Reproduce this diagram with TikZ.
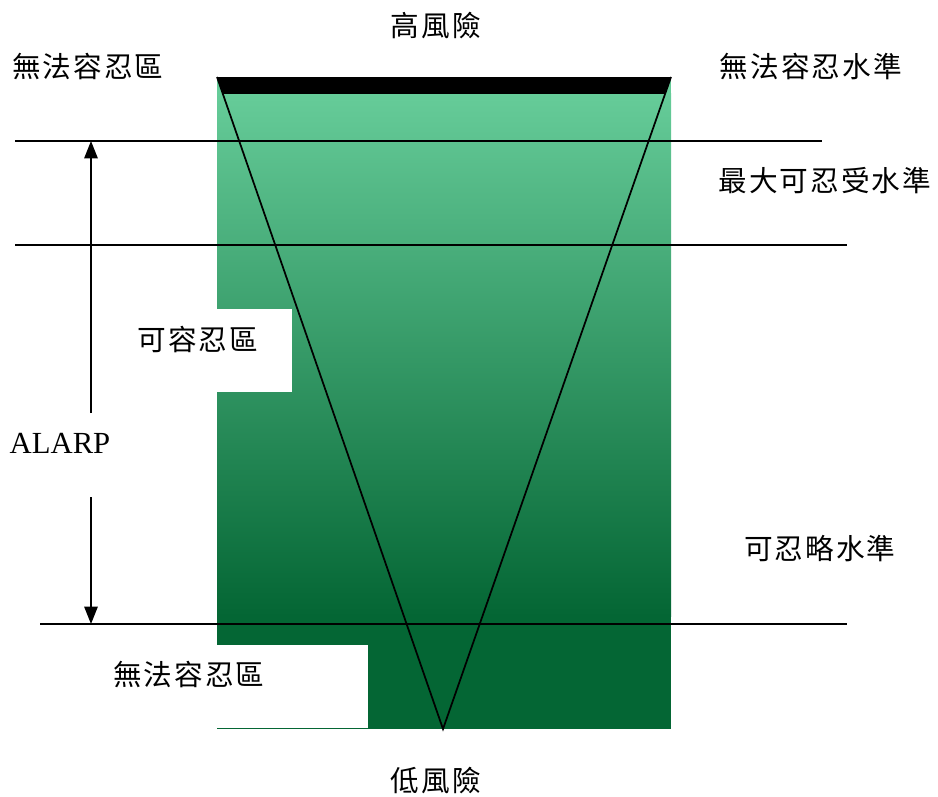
\documentclass[tikz,border=0pt]{standalone}
\usepackage{fontspec}
\setmainfont{Liberation Serif}
\newfontfamily\cjk{Noto Sans CJK TC}[LetterSpace=7]
\usetikzlibrary{arrows.meta}
\definecolor{gtop}{RGB}{102,204,153}
\definecolor{gbot}{RGB}{4,102,52}
\tikzset{
  lbl/.style={inner sep=0pt, font=\cjk\fontsize{21.5}{24}\selectfont},
  hline/.style={line width=1.1pt},
  tri/.style={line width=1.3pt},
  dimarrow/.style={line width=1.2pt, -{Triangle[length=13pt,width=10pt]}}
}
\begin{document}
\begin{tikzpicture}[x=0.75pt,y=-0.75pt]
\useasboundingbox (0,0) rectangle (938,796);
% gradient body
\fill[gbot] (217,615) rectangle (671,729);
\shade[top color=gtop, bottom color=gbot] (217,93) rectangle (671,616);
\fill[gtop] (217,77) rectangle (671,93);
% white label boxes
\fill[white] (200,309) rectangle (292,392);
\fill[white] (217,645) rectangle (368,728);
% triangle corners
\coordinate (tl) at (217,77);
\coordinate (tr) at (671,77);
\coordinate (bt) at (443,729);
% black top bar
\begin{scope}
\clip (200,77) rectangle (700,93);
\fill[black] (tl) -- (tr) -- (bt) -- cycle;
\end{scope}
\draw[tri] (tl) -- (bt) -- (tr);
% horizontal levels
\coordinate (l1a) at (15,141);  \coordinate (l1b) at (822,141);
\coordinate (l2a) at (15,245);  \coordinate (l2b) at (847,245);
\coordinate (l3a) at (40,624);  \coordinate (l3b) at (847,624);
\draw[hline] (l1a) -- (l1b);
\draw[hline] (l2a) -- (l2b);
\draw[hline] (l3a) -- (l3b);
% labels
\node[lbl] (high) at (436,26) {高風險};
\node[lbl] (low) at (436,781) {低風險};
\node[lbl] (intolA) at (88,67) {無法容忍區};
\node[lbl] (intolL) at (811,67) {無法容忍水準};
\node[lbl] (maxL) at (825,181) {最大可忍受水準};
\node[lbl] (tolA) at (198,340) {可容忍區};
\node[lbl] (negL) at (820,549) {可忍略水準};
\node[lbl] (intolB) at (189,675) {無法容忍區};
\node[inner sep=0pt, font=\fontsize{23}{26}\selectfont] (alarp) at (60,443) {ALARP};
% ALARP arrows
\coordinate (aTop) at (91,141);
\coordinate (aTopS) at (91,413);
\coordinate (aBot) at (91,624);
\coordinate (aBotS) at (91,497);
\draw[dimarrow] (aTopS) -- (aTop);
\draw[dimarrow] (aBotS) -- (aBot);
\end{tikzpicture}
\end{document}
